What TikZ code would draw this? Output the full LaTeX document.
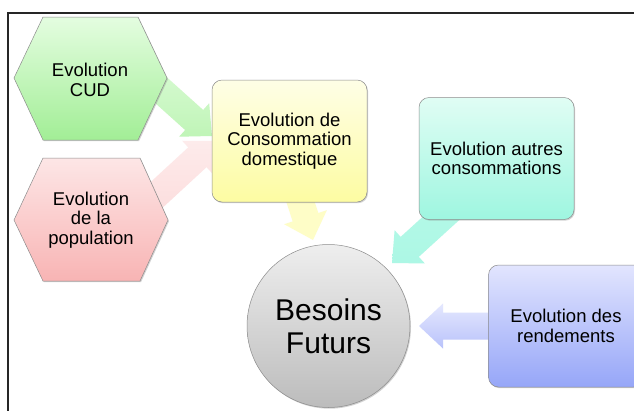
\documentclass[tikz,border=0pt]{standalone}
\usepackage{fontspec}
\setmainfont{Liberation Sans}
\usetikzlibrary{calc,shadows}
\definecolor{gTop}{HTML}{E4FDE0}\definecolor{gBot}{HTML}{A2EE96}
\definecolor{rTop}{HTML}{FDE6E6}\definecolor{rBot}{HTML}{F8B4B4}
\definecolor{yTop}{HTML}{FEFEE6}\definecolor{yBot}{HTML}{FDFCA2}
\definecolor{tTop}{HTML}{E0FDF4}\definecolor{tBot}{HTML}{9EF6E0}
\definecolor{bTop}{HTML}{E2E5FE}\definecolor{bBot}{HTML}{96A6F8}
\definecolor{cTop}{HTML}{EEEEEE}\definecolor{cBot}{HTML}{BCBCBC}
\newcommand\blockarrow[3]{%
  \coordinate (ba-h) at ($(#2)!24pt!(#1)$);
  \path[#3] ($(#1)!13.5pt!90:(#2)$) -- ($(ba-h)!13.5pt!-90:(#1)$) -- ($(ba-h)!22.5pt!-90:(#1)$) -- (#2) -- ($(ba-h)!22.5pt!90:(#1)$) -- ($(ba-h)!13.5pt!90:(#1)$) -- ($(#1)!13.5pt!-90:(#2)$) -- cycle;}
\tikzset{
  lbl/.style={align=center, font=\fontsize{18.5}{19.5}\selectfont, text=black},
  shapeline/.style={draw=black!45, line width=0.5pt, drop shadow={shadow xshift=1pt, shadow yshift=-1.2pt, opacity=0.35}},
  rbox/.style={lbl, rounded corners=10pt, minimum width=155pt, minimum height=122pt, shapeline},
}
\begin{document}
\begin{tikzpicture}[x=1pt,y=-1pt]
\useasboundingbox (0,0) rectangle (634,410);
\clip (0,0) rectangle (634,410);
\fill[white] (0,0) rectangle (634,410);
% frame
\draw[line width=1.1pt, black!85] (8,415) -- (8,13) -- (640,13);
% arrow ends
\coordinate (g0) at (104,39); \coordinate (g1) at (212,136);
\coordinate (r0) at (98,249); \coordinate (r1) at (215,141);
\coordinate (y0) at (290,170); \coordinate (y1) at (313,240);
\coordinate (t0) at (470,192); \coordinate (t1) at (392,263);
\coordinate (b0) at (520,326); \coordinate (b1) at (419,326);
% arrows
\blockarrow{r0}{r1}{shade, top color=rTop!80!white, bottom color=rTop!65!rBot}
\blockarrow{g0}{g1}{shade, top color=gTop, bottom color=gTop!45!gBot}
\blockarrow{y0}{y1}{fill=yBot!60!white}
\blockarrow{t0}{t1}{shade, top color=tBot!75!white, bottom color=tBot!85!white}
\blockarrow{b0}{b1}{shade, top color=bTop!90!white, bottom color=bTop!45!bBot}
% hexagons
\shade[shapeline, top color=gTop, bottom color=gBot] (14,78) -- (43,17) -- (138,17) -- (167,78) -- (138,140) -- (43,140) -- cycle;
\node[lbl] (cud) at (90,80) {Evolution\\CUD};
\shade[shapeline, top color=rTop, bottom color=rBot] (14,220) -- (43,158) -- (140,158) -- (168,220) -- (140,281) -- (43,281) -- cycle;
\node[lbl] (pop) at (91,220) {Evolution\\de la\\population};
% boxes
\node[rbox, top color=yTop, bottom color=yBot] (dom) at (289.5,141) {Evolution de\\Consommation\\domestique};
\node[rbox, top color=tTop, bottom color=tBot] (aut) at (496.5,158.5) {Evolution autres\\consommations};
\node[rbox, top color=bTop, bottom color=bBot] (ren) at (566,326) {Evolution des\\rendements};
% circle
\node[lbl, circle, minimum size=163pt, shapeline, top color=cTop, bottom color=cBot, font=\fontsize{30}{33}\selectfont] (bes) at (328.5,326) {Besoins\\Futurs};
\end{tikzpicture}
\end{document}
